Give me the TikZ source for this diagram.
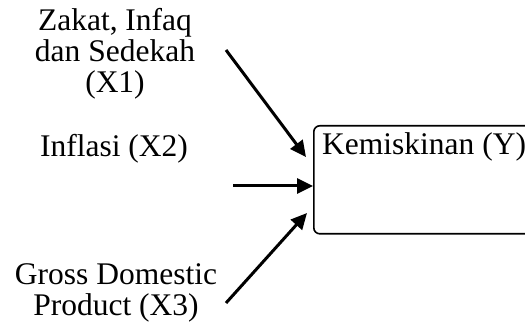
\documentclass[tikz,border=0pt]{standalone}
\usepackage{fontspec}
\setmainfont{Liberation Serif}
\usetikzlibrary{arrows.meta,calc}
\begin{document}
\begin{tikzpicture}[x=1pt,y=-1pt,
  lbl/.style={inner sep=0pt,font=\fontsize{31.5}{31}\selectfont},
  yvar/.style={draw,line width=1.6pt,rounded corners=6pt,inner sep=0pt,anchor=north west},
  conn/.style={line width=3pt,-{Triangle[length=16pt,width=15pt]}}]
\clip (0,0) rectangle (525,323);
\useasboundingbox (0,0) rectangle (525,323);
\node[yvar,minimum width=240pt,minimum height=108pt] (box) at (313,125) {};
\node[lbl,anchor=base west] (ytxt) at (322,155) {Kemiskinan (Y)};
\node[lbl,anchor=base,align=center] (x1) at (115,93) {Zakat, Infaq\\dan Sedekah\\(X1)};
\node[lbl,anchor=base] (x2) at (114,157) {Inflasi (X2)};
\node[lbl,anchor=base,align=center] (x3) at (116,315) {Gross Domestic\\Product (X3)};
\coordinate (s1) at (226,50);
\coordinate (s2) at (233,186);
\coordinate (s3) at (226,303);
\draw[conn] (s1) -- ($(box.north west)+(-7,32)$);
\draw[conn] (s2) -- ($(box.north west)+(0,61)$);
\draw[conn] (s3) -- ($(box.north west)+(-6,88)$);
\end{tikzpicture}
\end{document}
